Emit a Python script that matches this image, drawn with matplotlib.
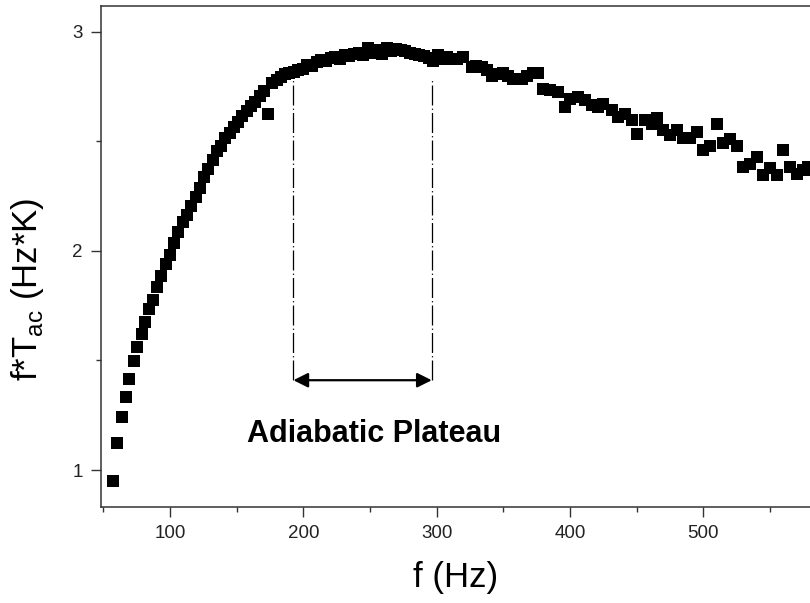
import matplotlib.pyplot as plt
from matplotlib.ticker import MultipleLocator

plt.rcParams['font.family'] = ['Liberation Sans', 'DejaVu Sans']
plt.rcParams['mathtext.fontset'] = 'custom'
plt.rcParams['mathtext.rm'] = 'Liberation Sans'

# frequencia (Hz) e f*Tac (Hz*K)
freq = [57.5, 60.4, 63.7, 66.7, 69.5, 72.8, 75.5, 78.8, 81.5, 84.5, 87.5, 90.5,
        93.5, 96.7, 99.9, 103.1, 106.3, 109.5, 112.7, 115.9, 119.1, 122.3,
        125.5, 128.7, 131.9, 135.1, 138.3, 141.5, 144.7, 147.9, 151.1, 154.3,
        157.5, 160.7, 163.9, 167.1, 170.3, 173.5, 176.7, 179.9, 183.1, 186.3,
        189.5, 192.7, 195.9,
        199.5, 203, 206.5, 210, 213.5, 217, 220.5, 224, 227.5, 231, 234.5,
        238, 241.5, 245, 248.5, 252, 255.5, 259, 262.5, 266, 269.5, 273,
        276.5, 280, 283.5, 287, 290.5, 294, 297.5, 301, 304.5, 308, 311.5,
        315.5, 320.0, 326.3, 329.5, 333.8, 337.5, 341.3, 345.5, 350.0, 353.5,
        357.5, 360.5, 363.8, 368.0, 372.5, 376.3, 380.0, 385.0, 391.3, 396.3,
        400.0, 406.3, 411.3, 416.3, 421.3, 425.0, 431.3, 436.3, 441.3,
        446.3, 450.3, 456.3, 461.3, 465.0, 469.8, 475.0, 480.0, 484.8, 490.0,
        495.0, 500.0, 505.0, 510.0, 515.0, 520.0, 525.0, 530.0, 535.0, 540.0,
        545.0, 550.0, 555.0, 560.0, 565.0, 570.0, 575.0, 578.5, 583.0]
fTac = [0.95, 1.122, 1.242, 1.333, 1.415, 1.497, 1.561, 1.623, 1.675, 1.733, 1.778, 1.836,
        1.885, 1.94, 1.98, 2.035, 2.085, 2.13, 2.165, 2.205, 2.245, 2.285,
        2.335, 2.375, 2.415, 2.455, 2.48, 2.515, 2.54, 2.565, 2.59, 2.615,
        2.64, 2.66, 2.68, 2.705, 2.73, 2.624, 2.765, 2.78, 2.795, 2.805,
        2.81, 2.815, 2.825,
        2.83, 2.85, 2.845, 2.86, 2.87, 2.865, 2.88, 2.885, 2.875, 2.895, 2.89,
        2.9, 2.905, 2.895, 2.925, 2.905, 2.915, 2.9, 2.925, 2.91, 2.92, 2.915,
        2.91, 2.905, 2.9, 2.895, 2.89, 2.88, 2.865, 2.895, 2.875, 2.885, 2.875,
        2.875, 2.886, 2.84, 2.845, 2.84, 2.825, 2.80, 2.805, 2.81, 2.80,
        2.786, 2.785, 2.786, 2.80, 2.81, 2.81, 2.74, 2.733, 2.725, 2.657,
        2.695, 2.703, 2.687, 2.664, 2.657, 2.672, 2.641, 2.611, 2.626,
        2.596, 2.532, 2.596, 2.58, 2.604, 2.55, 2.527, 2.55, 2.514, 2.514,
        2.543, 2.46, 2.48, 2.58, 2.49, 2.512, 2.48, 2.383, 2.398, 2.429,
        2.345, 2.376, 2.345, 2.462, 2.383, 2.353, 2.368, 2.383, 2.37]

plateau = [192.5, 296.3]
linha_topo = 2.787
linha_base = 1.41

fig = plt.figure(figsize=(8.1, 6.03), dpi=100)
ax = fig.add_axes([0.1247, 0.1597, 0.8753, 0.8303])

ax.plot(freq, fTac, 's', color='black', markersize=8, markeredgewidth=0)

for f in plateau:
    ax.plot([f, f], [linha_base, linha_topo], color='black', lw=0.9,
            linestyle=(0, (16, 2.5, 1, 2.5)))

ax.annotate('', xy=(plateau[1], linha_base), xytext=(plateau[0], linha_base),
            arrowprops=dict(arrowstyle='<|-|>', color='black', lw=1.6,
                            mutation_scale=22, shrinkA=0, shrinkB=0))

ax.text(253, 1.163, 'Adiabatic Plateau', fontsize=22, fontweight='bold',
        ha='center', va='center')

ax.set_xlim(48.2, 580)
ax.set_ylim(0.833, 3.117)
ax.xaxis.set_major_locator(MultipleLocator(100))
ax.xaxis.set_minor_locator(MultipleLocator(50))
ax.yaxis.set_major_locator(MultipleLocator(1))
ax.yaxis.set_minor_locator(MultipleLocator(0.5))

ax.spines['right'].set_visible(False)
for s in ['left', 'bottom', 'top']:
    ax.spines[s].set_color('#333333')
    ax.spines[s].set_linewidth(1.1)

ax.tick_params(which='major', direction='out', length=7.2, width=1.0,
               color='#333333', labelsize=13.5, labelcolor='#222222', pad=6)
ax.tick_params(which='minor', direction='out', length=3.8, width=1.0,
               color='#333333')
ax.tick_params(axis='x', which='both', top=False)

ax.set_xlabel('f (Hz)', fontsize=25, labelpad=14)
fig.text(28 / 810, 1 - 289 / 603, r'f*T$_{\mathrm{ac}}$ (Hz*K)', fontsize=25,
         rotation=90, ha='center', va='center')

fig.savefig('out.png', dpi=100)
